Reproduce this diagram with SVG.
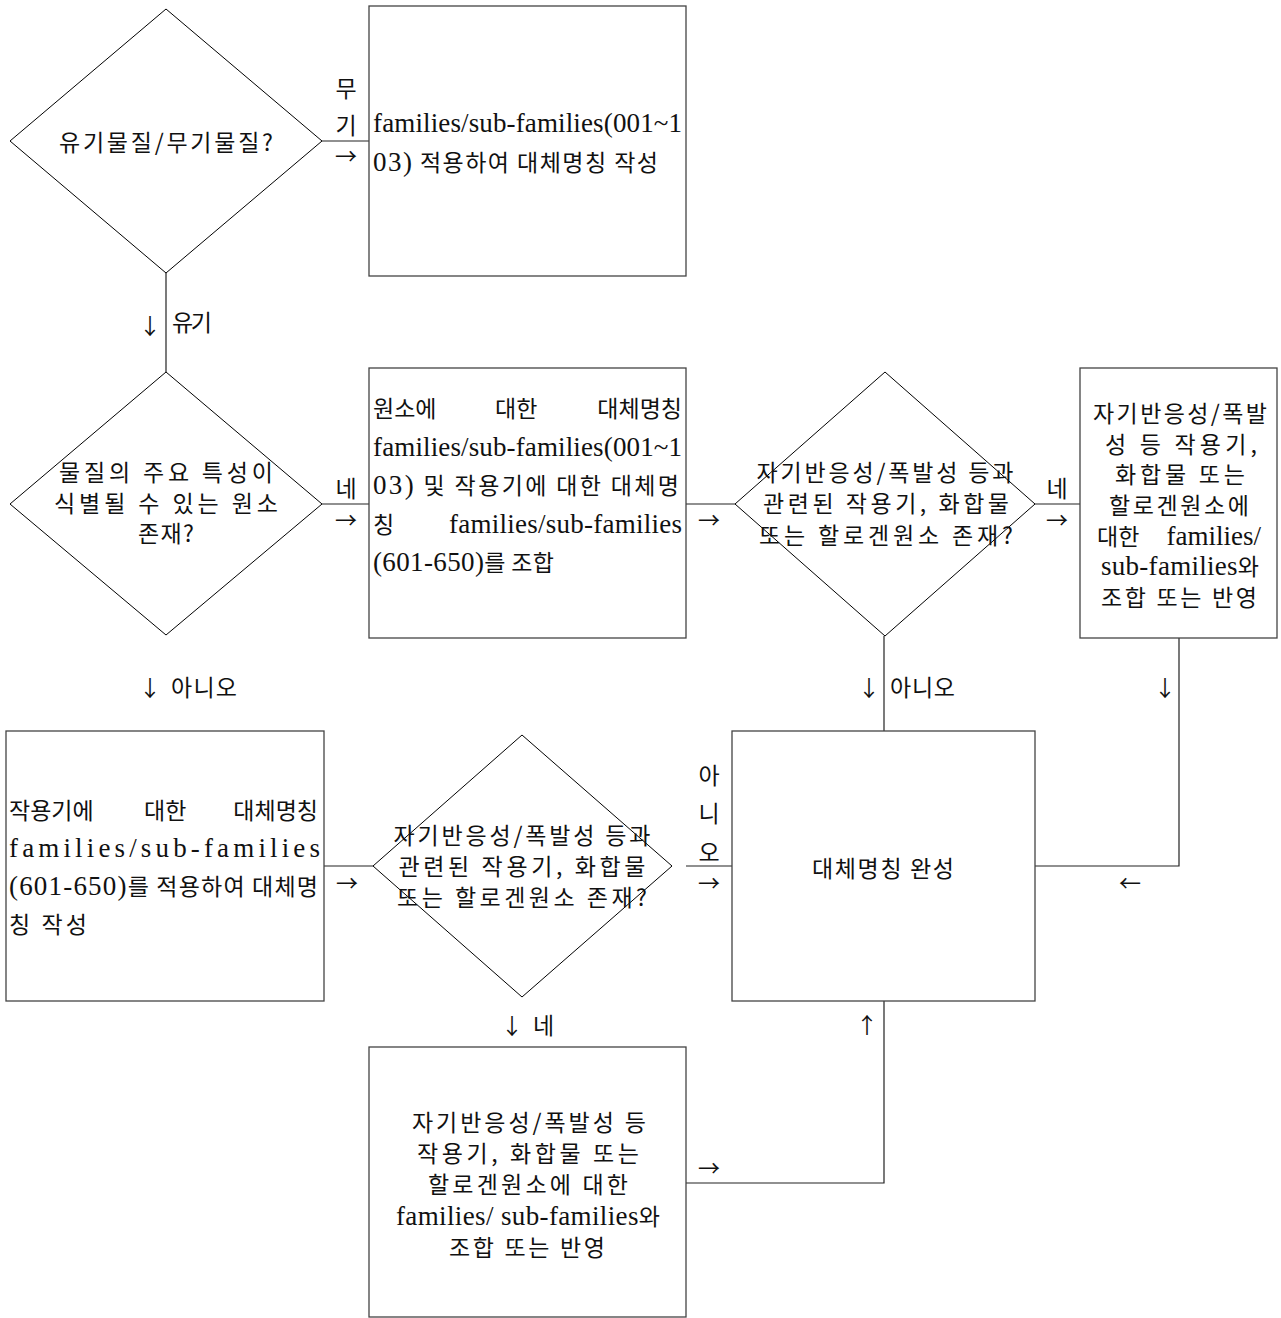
<svg xmlns="http://www.w3.org/2000/svg" width="1281" height="1318" viewBox="0 0 1281 1318">
<style>
.box{fill:#fff;stroke:#444;stroke-width:1.3}
.dia{fill:none;stroke:#000;stroke-width:1}
.con{fill:none;stroke:#222;stroke-width:1.2}
.k{font-family:"Noto Sans CJK KR","Noto Sans",sans-serif;font-size:23px;fill:#111}
.l{font-family:"Liberation Serif","Noto Sans CJK KR",serif;font-size:27px;fill:#111}
.c{text-anchor:middle}
.e{text-anchor:end}
.a{font-family:"Noto Sans CJK KR","DejaVu Sans",sans-serif;font-size:22px;fill:#111;text-anchor:middle}
</style>
<rect width="1281" height="1318" fill="#fff"/>

<g id="connectors">
<path class="con" d="M322,141 H369"/>
<path class="con" d="M166,273 V372"/>
<path class="con" d="M322,504 H369"/>
<path class="con" d="M686,504 H735"/>
<path class="con" d="M1035,504 H1080"/>
<path class="con" d="M884,636 V731"/>
<path class="con" d="M1179,638 V866 H1035"/>
<path class="con" d="M324,866 H373"/>
<path class="con" d="M686,866 H732"/>
<path class="con" d="M686,1183 H884 V1001"/>
<text class="k c" x="346" y="97">무</text>
<text class="k c" x="346" y="134">기</text>
<text class="a" x="346" y="164">→</text>
<text class="a" x="150" y="334">↓</text>
<text class="k" x="172" y="331" textLength="40">유기</text>
<text class="k c" x="346" y="497">네</text>
<text class="a" x="346" y="528">→</text>
<text class="a" x="709" y="528">→</text>
<text class="k c" x="1057" y="497">네</text>
<text class="a" x="1057" y="528">→</text>
<text class="a" x="150" y="696">↓</text>
<text class="k" x="171" y="696" textLength="66">아니오</text>
<text class="a" x="869" y="696">↓</text>
<text class="k" x="890" y="696" textLength="65">아니오</text>
<text class="a" x="1165" y="696">↓</text>
<text class="a" x="1130" y="891">←</text>
<text class="a" x="347" y="891">→</text>
<text class="k c" x="709" y="784">아</text>
<text class="k c" x="709" y="822">니</text>
<text class="k c" x="709" y="861">오</text>
<text class="a" x="709" y="891">→</text>
<text class="a" x="512" y="1034">↓</text>
<text class="k" x="533" y="1034">네</text>
<text class="a" x="709" y="1176">→</text>
<text class="a" x="867" y="1033">↑</text>
</g>

<g id="d1">
<polygon class="dia" points="166,9 322,141 166,273 10,141"/>
<text class="k c" x="166" y="151" textLength="214">유기물질/무기물질?</text>
</g>

<g id="b1">
<rect class="box" x="369" y="6" width="317" height="270"/>
<text class="l" x="373" y="132" textLength="309">families/sub-families(001~1</text>
<text class="k" x="373" y="171" textLength="285"><tspan class="l">03)</tspan> 적용하여 대체명칭 작성</text>
</g>

<g id="d2">
<polygon class="dia" points="166,372 322,504 166,635 10,504"/>
<text class="k c" x="166" y="481" textLength="214">물질의 주요 특성이</text>
<text class="k c" x="166" y="512" textLength="224">식별될 수 있는 원소</text>
<text class="k c" x="166" y="542" textLength="56">존재?</text>
</g>

<g id="b2">
<rect class="box" x="369" y="368" width="317" height="270"/>
<text class="k" x="373" y="417">원소에</text>
<text class="k" x="495" y="417">대한</text>
<text class="k e" x="682" y="417">대체명칭</text>
<text class="l" x="373" y="456" textLength="309">families/sub-families(001~1</text>
<text class="k" x="373" y="494" textLength="306"><tspan class="l">03)</tspan> 및 작용기에 대한 대체명</text>
<text class="k" x="373" y="533">칭</text>
<text class="l" x="449" y="533" textLength="233">families/sub-families</text>
<text class="k" x="373" y="571" textLength="181"><tspan class="l">(601-650)</tspan>를 조합</text>
</g>

<g id="d3">
<polygon class="dia" points="885,372 1035,504 885,636 735,504"/>
<text class="k c" x="885" y="481" textLength="257">자기반응성/폭발성 등과</text>
<text class="k c" x="886" y="512" textLength="246">관련된 작용기, 화합물</text>
<text class="k c" x="886" y="544" textLength="254">또는 할로겐원소 존재?</text>
</g>

<g id="b3">
<rect class="box" x="1080" y="368" width="197" height="270"/>
<text class="k c" x="1180" y="422" textLength="174">자기반응성/폭발</text>
<text class="k c" x="1181" y="453" textLength="152">성 등 작용기,</text>
<text class="k c" x="1180" y="483" textLength="130">화합물 또는</text>
<text class="k c" x="1179" y="514" textLength="140">할로겐원소에</text>
<text class="k" x="1097" y="545">대한</text>
<text class="l e" x="1261" y="545">families/</text>
<text class="k c" x="1180" y="575" textLength="158"><tspan class="l">sub-families</tspan>와</text>
<text class="k c" x="1179" y="606" textLength="156">조합 또는 반영</text>
</g>

<g id="b4">
<rect class="box" x="732" y="731" width="303" height="270"/>
<text class="k c" x="883" y="877" textLength="142">대체명칭 완성</text>
</g>

<g id="b5">
<rect class="box" x="6" y="731" width="318" height="270"/>
<text class="k" x="9" y="819">작용기에</text>
<text class="k" x="144" y="819">대한</text>
<text class="k e" x="318" y="819">대체명칭</text>
<text class="l" x="9" y="857" textLength="311">families/sub-families</text>
<text class="k" x="9" y="895" textLength="309"><tspan class="l">(601-650)</tspan>를 적용하여 대체명</text>
<text class="k" x="9" y="933" textLength="78">칭 작성</text>
</g>

<g id="d4">
<polygon class="dia" points="522,735 672,866 522,997 373,866"/>
<text class="k c" x="522" y="844" textLength="257">자기반응성/폭발성 등과</text>
<text class="k c" x="522" y="875" textLength="247">관련된 작용기, 화합물</text>
<text class="k c" x="522" y="906" textLength="250">또는 할로겐원소 존재?</text>
</g>

<g id="b6">
<rect class="box" x="369" y="1047" width="317" height="270"/>
<text class="k c" x="529" y="1131" textLength="234">자기반응성/폭발성 등</text>
<text class="k c" x="528" y="1162" textLength="222">작용기, 화합물 또는</text>
<text class="k c" x="528" y="1193" textLength="200">할로겐원소에 대한</text>
<text class="k c" x="528" y="1225" textLength="264"><tspan class="l">families/ sub-families</tspan>와</text>
<text class="k c" x="527" y="1256" textLength="156">조합 또는 반영</text>
</g>
</svg>
